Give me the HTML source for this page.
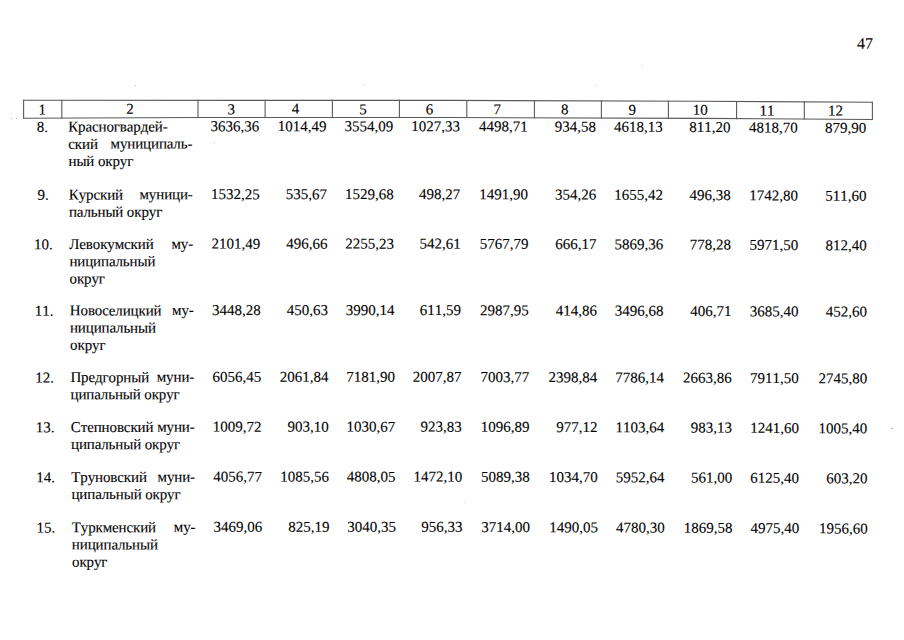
<!DOCTYPE html>
<html><head><meta charset="utf-8"><title>47</title>
<style>
html,body{margin:0;padding:0;background:#fff;}
body{width:904px;height:640px;position:relative;overflow:hidden;}
.t{position:absolute;font-family:"Liberation Serif",serif;font-size:15px;line-height:20px;white-space:pre;color:#000;-webkit-text-stroke:0.1px #000;text-rendering:geometricPrecision;font-kerning:none;font-feature-settings:"kern" 0;}
.r{transform:translateX(-100%);}
.w{letter-spacing:-0.12px;}
.p{font-size:16px;}
.c{transform:translateX(-50%);}
svg{position:absolute;left:0;top:0;}
.pg{position:absolute;left:0;top:0;width:904px;height:640px;transform-origin:0 0;transform:matrix(1,0.0018,0,1,0,-0.0756);}
</style></head><body>
<svg width="904" height="640" viewBox="0 0 904 640">
<g stroke="#5a5a5a" stroke-width="1.1" fill="none" stroke-linecap="square">
<polyline points="23.6,100.3 450,100.4 700,101.3 872.4,102.3"/>
<polyline points="23.6,118.3 200,117.5 450,117.5 700,118.4 872.4,119.5"/>
<line x1="23.6" y1="100.30" x2="23.6" y2="118.30"/>
<line x1="61.8" y1="100.31" x2="61.8" y2="118.13"/>
<line x1="198.0" y1="100.34" x2="198.0" y2="117.51"/>
<line x1="265.1" y1="100.36" x2="265.1" y2="117.50"/>
<line x1="332.4" y1="100.37" x2="332.4" y2="117.50"/>
<line x1="399.4" y1="100.39" x2="399.4" y2="117.50"/>
<line x1="466.8" y1="100.46" x2="466.8" y2="117.56"/>
<line x1="534.4" y1="100.70" x2="534.4" y2="117.80"/>
<line x1="601.4" y1="100.95" x2="601.4" y2="118.05"/>
<line x1="668.4" y1="101.19" x2="668.4" y2="118.29"/>
<line x1="736.6" y1="101.51" x2="736.6" y2="118.63"/>
<line x1="804.3" y1="101.90" x2="804.3" y2="119.07"/>
<line x1="872.4" y1="102.30" x2="872.4" y2="119.50"/>
</g>
<rect x="11" y="118" width="1" height="1" fill="#a8a8a8"/>
<rect x="16" y="118" width="1" height="1" fill="#a8a8a8"/>
<rect x="135" y="85" width="1" height="1" fill="#b8b8b8"/>
<rect x="214" y="142" width="1" height="1" fill="#b8b8b8"/>
<rect x="364" y="84" width="1" height="1" fill="#c8c8c8"/>
<rect x="595" y="85" width="1" height="1" fill="#c8c8c8"/>
<rect x="642" y="65" width="1" height="1" fill="#d0d0d0"/>
<rect x="891" y="428" width="2" height="1" fill="#b8b8b8"/>
<rect x="464" y="502" width="1" height="1" fill="#d0d0d0"/>
<rect x="125" y="252" width="1" height="1" fill="#d0d0d0"/>
</svg>
<div class="pg">
<div class="t" style="left:42.39px;top:117px;transform:translate(-50%,0.88px)">8.</div>
<div class="t w" style="left:68.19px;top:117px;transform:translate(0,0.40px)">Красногвардей-</div>
<div class="t w" style="left:68.34px;top:134px;transform:translate(0,0.82px)">ский</div>
<div class="t w" style="left:192.33px;top:134px;transform:translate(-100%,0.37px)">муниципаль-</div>
<div class="t w" style="left:68.50px;top:151px;transform:translate(0,0.91px)">ный округ</div>
<div class="t" style="left:259.29px;top:116px;transform:translate(-100%,0.81px)">3636,36</div>
<div class="t" style="left:326.59px;top:116px;transform:translate(-100%,0.69px)">1014,49</div>
<div class="t" style="left:393.25px;top:116px;transform:translate(-100%,0.57px)">3554,09</div>
<div class="t" style="left:459.95px;top:116px;transform:translate(-100%,0.45px)">1027,33</div>
<div class="t" style="left:527.70px;top:116px;transform:translate(-100%,0.52px)">4498,71</div>
<div class="t" style="left:595.90px;top:116px;transform:translate(-100%,0.65px)">934,58</div>
<div class="t" style="left:662.65px;top:116px;transform:translate(-100%,0.76px)">4618,13</div>
<div class="t" style="left:730.55px;top:116px;transform:translate(-100%,0.91px)">811,20</div>
<div class="t" style="left:797.65px;top:117px;transform:translate(-100%,0.10px)">4818,70</div>
<div class="t" style="left:866.25px;top:117px;transform:translate(-100%,0.33px)">879,90</div>
<div class="t" style="left:43.00px;top:185px;transform:translate(-50%,0.84px)">9.</div>
<div class="t w" style="left:68.79px;top:185px;transform:translate(0,0.52px)">Курский</div>
<div class="t w" style="left:192.74px;top:185px;transform:translate(-100%,0.05px)">муници-</div>
<div class="t w" style="left:68.94px;top:202px;transform:translate(0,0.59px)">пальный округ</div>
<div class="t" style="left:259.81px;top:184px;transform:translate(-100%,0.78px)">1532,25</div>
<div class="t" style="left:327.08px;top:184px;transform:translate(-100%,0.65px)">535,67</div>
<div class="t" style="left:393.70px;top:184px;transform:translate(-100%,0.54px)">1529,68</div>
<div class="t" style="left:460.37px;top:184px;transform:translate(-100%,0.41px)">498,27</div>
<div class="t" style="left:528.10px;top:184px;transform:translate(-100%,0.49px)">1491,90</div>
<div class="t" style="left:596.27px;top:184px;transform:translate(-100%,0.62px)">354,26</div>
<div class="t" style="left:662.99px;top:184px;transform:translate(-100%,0.73px)">1655,42</div>
<div class="t" style="left:730.86px;top:184px;transform:translate(-100%,0.88px)">496,38</div>
<div class="t" style="left:797.93px;top:185px;transform:translate(-100%,0.07px)">1742,80</div>
<div class="t" style="left:866.50px;top:185px;transform:translate(-100%,0.30px)">511,60</div>
<div class="t" style="left:43.45px;top:235px;transform:translate(-50%,0.33px)">10.</div>
<div class="t w" style="left:69.23px;top:234px;transform:translate(0,0.92px)">Левокумский</div>
<div class="t w" style="left:193.14px;top:234px;transform:translate(-100%,0.45px)">му-</div>
<div class="t w" style="left:69.38px;top:252px;transform:translate(0,0.12px)">ниципальный</div>
<div class="t w" style="left:69.53px;top:269px;transform:translate(0,0.45px)">округ</div>
<div class="t" style="left:260.19px;top:234px;transform:translate(-100%,0.27px)">2101,49</div>
<div class="t" style="left:327.44px;top:234px;transform:translate(-100%,0.14px)">496,66</div>
<div class="t" style="left:394.04px;top:234px;transform:translate(-100%,0.03px)">2255,23</div>
<div class="t" style="left:460.69px;top:233px;transform:translate(-100%,0.90px)">542,61</div>
<div class="t" style="left:528.39px;top:233px;transform:translate(-100%,0.98px)">5767,79</div>
<div class="t" style="left:596.54px;top:234px;transform:translate(-100%,0.11px)">666,17</div>
<div class="t" style="left:663.24px;top:234px;transform:translate(-100%,0.23px)">5869,36</div>
<div class="t" style="left:731.09px;top:234px;transform:translate(-100%,0.37px)">778,28</div>
<div class="t" style="left:798.14px;top:234px;transform:translate(-100%,0.56px)">5971,50</div>
<div class="t" style="left:866.69px;top:234px;transform:translate(-100%,0.79px)">812,40</div>
<div class="t" style="left:44.04px;top:301px;transform:translate(-50%,0.69px)">11.</div>
<div class="t w" style="left:69.81px;top:301px;transform:translate(0,0.26px)">Новоселицкий</div>
<div class="t w" style="left:193.67px;top:300px;transform:translate(-100%,0.80px)">му-</div>
<div class="t w" style="left:69.96px;top:318px;transform:translate(0,0.48px)">ниципальный</div>
<div class="t w" style="left:70.12px;top:335px;transform:translate(0,0.81px)">округ</div>
<div class="t" style="left:260.69px;top:300px;transform:translate(-100%,0.63px)">3448,28</div>
<div class="t" style="left:327.91px;top:300px;transform:translate(-100%,0.50px)">450,63</div>
<div class="t" style="left:394.48px;top:300px;transform:translate(-100%,0.39px)">3990,14</div>
<div class="t" style="left:461.11px;top:300px;transform:translate(-100%,0.26px)">611,59</div>
<div class="t" style="left:528.78px;top:300px;transform:translate(-100%,0.34px)">2987,95</div>
<div class="t" style="left:596.90px;top:300px;transform:translate(-100%,0.47px)">414,86</div>
<div class="t" style="left:663.57px;top:300px;transform:translate(-100%,0.59px)">3496,68</div>
<div class="t" style="left:731.39px;top:300px;transform:translate(-100%,0.73px)">406,71</div>
<div class="t" style="left:798.41px;top:300px;transform:translate(-100%,0.92px)">3685,40</div>
<div class="t" style="left:866.94px;top:301px;transform:translate(-100%,0.15px)">452,60</div>
<div class="t" style="left:44.64px;top:368px;transform:translate(-50%,0.42px)">12.</div>
<div class="t w" style="left:70.40px;top:368px;transform:translate(0,0.04px)">Предгорный</div>
<div class="t w" style="left:194.20px;top:367px;transform:translate(-100%,0.58px)">муни-</div>
<div class="t w" style="left:70.55px;top:385px;transform:translate(0,0.12px)">ципальный округ</div>
<div class="t" style="left:261.20px;top:367px;transform:translate(-100%,0.37px)">6056,45</div>
<div class="t" style="left:328.39px;top:367px;transform:translate(-100%,0.25px)">2061,84</div>
<div class="t" style="left:394.93px;top:367px;transform:translate(-100%,0.13px)">7181,90</div>
<div class="t" style="left:461.53px;top:367px;transform:translate(-100%,0.01px)">2007,87</div>
<div class="t" style="left:529.17px;top:367px;transform:translate(-100%,0.08px)">7003,77</div>
<div class="t" style="left:597.26px;top:367px;transform:translate(-100%,0.21px)">2398,84</div>
<div class="t" style="left:663.91px;top:367px;transform:translate(-100%,0.33px)">7786,14</div>
<div class="t" style="left:731.70px;top:367px;transform:translate(-100%,0.46px)">2663,86</div>
<div class="t" style="left:798.69px;top:367px;transform:translate(-100%,0.67px)">7911,50</div>
<div class="t" style="left:867.19px;top:367px;transform:translate(-100%,0.88px)">2745,80</div>
<div class="t" style="left:45.09px;top:418px;transform:translate(-50%,0.32px)">13.</div>
<div class="t w" style="left:70.84px;top:417px;transform:translate(0,0.91px)">Степновский</div>
<div class="t w" style="left:194.60px;top:417px;transform:translate(-100%,0.48px)">муни-</div>
<div class="t w" style="left:70.99px;top:435px;transform:translate(0,0.02px)">ципальный округ</div>
<div class="t" style="left:261.58px;top:417px;transform:translate(-100%,0.27px)">1009,72</div>
<div class="t" style="left:328.75px;top:417px;transform:translate(-100%,0.14px)">903,10</div>
<div class="t" style="left:395.27px;top:417px;transform:translate(-100%,0.03px)">1030,67</div>
<div class="t" style="left:461.84px;top:416px;transform:translate(-100%,0.90px)">923,83</div>
<div class="t" style="left:529.47px;top:416px;transform:translate(-100%,0.98px)">1096,89</div>
<div class="t" style="left:597.54px;top:417px;transform:translate(-100%,0.11px)">977,12</div>
<div class="t" style="left:664.16px;top:417px;transform:translate(-100%,0.23px)">1103,64</div>
<div class="t" style="left:731.93px;top:417px;transform:translate(-100%,0.37px)">983,13</div>
<div class="t" style="left:798.90px;top:417px;transform:translate(-100%,0.57px)">1241,60</div>
<div class="t" style="left:867.37px;top:417px;transform:translate(-100%,0.78px)">1005,40</div>
<div class="t" style="left:45.54px;top:468px;transform:translate(-50%,0.30px)">14.</div>
<div class="t w" style="left:71.28px;top:467px;transform:translate(0,0.91px)">Труновский</div>
<div class="t w" style="left:195.00px;top:467px;transform:translate(-100%,0.46px)">муни-</div>
<div class="t w" style="left:71.43px;top:484px;transform:translate(0,1.00px)">ципальный округ</div>
<div class="t" style="left:261.96px;top:467px;transform:translate(-100%,0.25px)">4056,77</div>
<div class="t" style="left:329.11px;top:467px;transform:translate(-100%,0.13px)">1085,56</div>
<div class="t" style="left:395.61px;top:467px;transform:translate(-100%,0.01px)">4808,05</div>
<div class="t" style="left:462.16px;top:466px;transform:translate(-100%,0.89px)">1472,10</div>
<div class="t" style="left:529.76px;top:466px;transform:translate(-100%,0.97px)">5089,38</div>
<div class="t" style="left:597.81px;top:467px;transform:translate(-100%,0.09px)">1034,70</div>
<div class="t" style="left:664.41px;top:467px;transform:translate(-100%,0.21px)">5952,64</div>
<div class="t" style="left:732.16px;top:467px;transform:translate(-100%,0.35px)">561,00</div>
<div class="t" style="left:799.11px;top:467px;transform:translate(-100%,0.55px)">6125,40</div>
<div class="t" style="left:867.56px;top:467px;transform:translate(-100%,0.77px)">603,20</div>
<div class="t" style="left:45.99px;top:518px;transform:translate(-50%,0.49px)">15.</div>
<div class="t w" style="left:71.72px;top:518px;transform:translate(0,0.09px)">Туркменский</div>
<div class="t w" style="left:195.41px;top:517px;transform:translate(-100%,0.61px)">му-</div>
<div class="t w" style="left:71.87px;top:535px;transform:translate(0,0.28px)">ниципальный</div>
<div class="t w" style="left:72.03px;top:552px;transform:translate(0,0.62px)">округ</div>
<div class="t" style="left:262.34px;top:517px;transform:translate(-100%,0.45px)">3469,06</div>
<div class="t" style="left:329.47px;top:517px;transform:translate(-100%,0.32px)">825,19</div>
<div class="t" style="left:395.95px;top:517px;transform:translate(-100%,0.21px)">3040,35</div>
<div class="t" style="left:462.48px;top:517px;transform:translate(-100%,0.08px)">956,33</div>
<div class="t" style="left:530.06px;top:517px;transform:translate(-100%,0.17px)">3714,00</div>
<div class="t" style="left:598.08px;top:517px;transform:translate(-100%,0.29px)">1490,05</div>
<div class="t" style="left:664.66px;top:517px;transform:translate(-100%,0.41px)">4780,30</div>
<div class="t" style="left:732.39px;top:517px;transform:translate(-100%,0.54px)">1869,58</div>
<div class="t" style="left:799.32px;top:517px;transform:translate(-100%,0.75px)">4975,40</div>
<div class="t" style="left:867.75px;top:517px;transform:translate(-100%,0.96px)">1956,60</div>
<div class="t" style="left:42.29px;top:100px;transform:translate(-50%,0.55px)">1</div>
<div class="t" style="left:130.08px;top:99px;transform:translate(-50%,0.59px)">2</div>
<div class="t" style="left:231.23px;top:99px;transform:translate(-50%,0.81px)">3</div>
<div class="t" style="left:295.42px;top:98px;transform:translate(-50%,0.99px)">4</div>
<div class="t" style="left:362.91px;top:99px;transform:translate(-50%,0.67px)">5</div>
<div class="t" style="left:429.55px;top:99px;transform:translate(-50%,0.55px)">6</div>
<div class="t" style="left:497.17px;top:99px;transform:translate(-50%,0.43px)">7</div>
<div class="t" style="left:564.75px;top:99px;transform:translate(-50%,0.31px)">8</div>
<div class="t" style="left:632.37px;top:99px;transform:translate(-50%,0.69px)">9</div>
<div class="t" style="left:700.23px;top:99px;transform:translate(-50%,0.56px)">10</div>
<div class="t" style="left:767.09px;top:100px;transform:translate(-50%,0.24px)">11</div>
<div class="t" style="left:835.40px;top:100px;transform:translate(-50%,0.12px)">12</div>
<div class="t p" style="left:857.00px;top:33px;transform:translate(0,0.33px)">47</div>
</div>
</body></html>
